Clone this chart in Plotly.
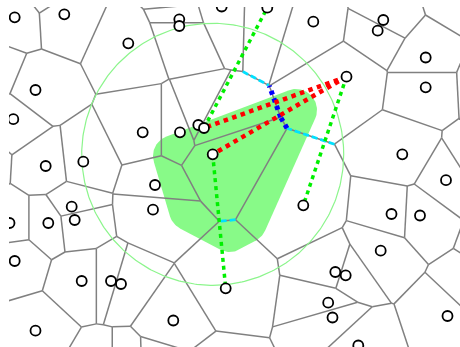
import numpy as np
import plotly.graph_objects as go

# Sites in screen space (x to the right, y downward)
site_x = [14.7, 64.3, 128.3, 179.3, 179.3, 221.7, 267.3, 313.3, 383.3, 377.7,
          425.7, 425.7, 346.5, 35.5, 13.3, 142.7, 180.0, 198.3, 204.0, 212.7,
          402.3, 446.0, 45.7, 83.3, 155.0, 153.0, 71.7, 74.7, 48.3, 9.5,
          303.3, 391.5, 420.0, 14.7, 81.7, 111.0, 121.0, 225.7, 380.7, 335.3,
          345.7, 35.5, 173.3, 328.2, 332.5, 447.5, 358.3]
site_y = [17.3, 14.3, 43.3, 19.3, 26.0, 6.5, 7.7, 21.7, 20.0, 30.7,
          57.5, 87.3, 76.7, 90.0, 119.2, 132.3, 132.3, 125.0, 128.0, 154.3,
          154.3, 180.2, 166.0, 161.7, 185.0, 209.7, 206.7, 220.0, 223.0, 223.0,
          205.3, 214.0, 215.5, 261.0, 281.0, 281.0, 284.0, 288.3, 250.7, 272.0,
          275.3, 330.7, 320.5, 302.7, 317.5, 316.0, 345.5]

# Sites just outside the visible window (they shape the border cells)
outer_x = [49.0, 177.0, 463.0, 489.0, 478.0, 500.0, 470.0, -5.5, -23.0, 100.5, 124.0, 159.0, 215.0]
outer_y = [-10.0, -7.0, -5.0, 84.0, 160.0, 245.0, 292.0, 73.0, 162.0, 369.0, 369.0, 368.0, 375.0]

# Highlighted neighbour pairs (indices into the site lists)
green_pairs = [(18, 6), (12, 30), (19, 37)]
red_pairs = [(12, 18), (12, 19)]
circle_center = 19
circle_radius = 131.0

# Rounded region: corner anchors and rounding radius
region_x = [174.0, 296.0, 246.0, 230.0, 190.0]
region_y = [156.0, 110.0, 222.0, 231.0, 210.0]
region_radius = 21.0

pts = np.column_stack([site_x + outer_x, site_y + outer_y]).astype(float)


def clip(poly, labels, a, b, tag):
    """Clip a convex polygon to a.p <= b, tagging the new edge with `tag`."""
    out_p, out_l = [], []
    n = len(poly)
    for k in range(n):
        P, Q, L = poly[k], poly[(k + 1) % n], labels[k]
        dp, dq = a @ P - b, a @ Q - b
        if dp <= 0:
            out_p.append(P)
            if dq <= 0:
                out_l.append(L)
            else:
                I = P + (Q - P) * dp / (dp - dq)
                out_l.append(L)
                out_p.append(I)
                out_l.append(tag)
        elif dq <= 0:
            I = P + (Q - P) * dp / (dp - dq)
            out_p.append(I)
            out_l.append(L)
    return out_p, out_l


box = [np.array(c, float) for c in [(-800, -800), (1300, -800), (1300, 1200), (-800, 1200)]]
cells = []
for i, p in enumerate(pts):
    poly, labels = list(box), [-1] * 4
    for j, q in enumerate(pts):
        if j == i:
            continue
        a = q - p
        poly, labels = clip(poly, labels, a, a @ ((p + q) / 2), j)
    cells.append((poly, labels))


def shared_edge(i, j):
    poly, labels = cells[i]
    for k, L in enumerate(labels):
        if L == j:
            return poly[k], poly[(k + 1) % len(poly)]
    return None


ex, ey = [], []
for i, (poly, labels) in enumerate(cells):
    for k, L in enumerate(labels):
        if L > i:
            P, Q = poly[k], poly[(k + 1) % len(poly)]
            ex += [P[0], Q[0], None]
            ey += [P[1], Q[1], None]


def seg_lists(pairs, dual):
    xs, ys = [], []
    for i, j in pairs:
        if dual:
            e = shared_edge(i, j)
            if e is None:
                continue
            P, Q = e
        else:
            P, Q = pts[i], pts[j]
        xs += [P[0], Q[0], None]
        ys += [P[1], Q[1], None]
    return xs, ys


# rounded region = convex hull of discs around the anchors
ang = np.linspace(0, 2 * np.pi, 120, endpoint=False)
cloud = np.vstack([np.column_stack([cx + region_radius * np.cos(ang), cy + region_radius * np.sin(ang)])
                   for cx, cy in zip(region_x, region_y)])
cloud = cloud[np.lexsort((cloud[:, 1], cloud[:, 0]))]


def cross(o, a, b):
    return (a[0] - o[0]) * (b[1] - o[1]) - (a[1] - o[1]) * (b[0] - o[0])


lower, upper = [], []
for pnt in cloud:
    while len(lower) >= 2 and cross(lower[-2], lower[-1], pnt) <= 0:
        lower.pop()
    lower.append(tuple(pnt))
for pnt in cloud[::-1]:
    while len(upper) >= 2 and cross(upper[-2], upper[-1], pnt) <= 0:
        upper.pop()
    upper.append(tuple(pnt))
hull = np.array(lower[:-1] + upper[:-1] + [lower[0]])

fig = go.Figure()
fig.add_trace(go.Scatter(x=hull[:, 0], y=hull[:, 1], mode="lines", fill="toself",
                         fillcolor="rgb(136,250,136)", line=dict(width=0), hoverinfo="skip"))
fig.add_trace(go.Scatter(x=ex, y=ey, mode="lines", line=dict(color="rgb(128,128,128)", width=1.5),
                         hoverinfo="skip"))

t = np.linspace(0, 2 * np.pi, 361)
cc = pts[circle_center]
fig.add_trace(go.Scatter(x=cc[0] + circle_radius * np.cos(t), y=cc[1] + circle_radius * np.sin(t),
                         mode="lines", line=dict(color="rgb(140,245,140)", width=1.2), hoverinfo="skip"))

cx_, cy_ = seg_lists(green_pairs, True)
fig.add_trace(go.Scatter(x=cx_, y=cy_, mode="lines",
                         line=dict(color="rgb(0,225,255)", width=2.8, dash="6px,3px"), hoverinfo="skip"))
bx_, by_ = seg_lists(red_pairs, True)
fig.add_trace(go.Scatter(x=bx_, y=by_, mode="lines",
                         line=dict(color="rgb(0,0,255)", width=5, dash="4px,4px"), hoverinfo="skip"))
gx_, gy_ = seg_lists(green_pairs, False)
fig.add_trace(go.Scatter(x=gx_, y=gy_, mode="lines",
                         line=dict(color="rgb(0,240,0)", width=3.5, dash="4px,4px"), hoverinfo="skip"))
rx_, ry_ = seg_lists(red_pairs, False)
fig.add_trace(go.Scatter(x=rx_, y=ry_, mode="lines",
                         line=dict(color="rgb(255,0,0)", width=4.5, dash="4.5px,4.5px"), hoverinfo="skip"))

fig.add_trace(go.Scatter(x=site_x, y=site_y, mode="markers",
                         marker=dict(size=10, color="white", line=dict(color="black", width=1.8)),
                         hoverinfo="skip"))

fig.update_layout(width=460, height=347, autosize=False, showlegend=False,
                  margin=dict(l=9, r=0, t=7, b=0),
                  paper_bgcolor="white", plot_bgcolor="white",
                  xaxis=dict(range=[9, 460], visible=False, fixedrange=True),
                  yaxis=dict(range=[347, 7], visible=False, fixedrange=True))
fig.write_html("out.html", config={"displayModeBar": False})
